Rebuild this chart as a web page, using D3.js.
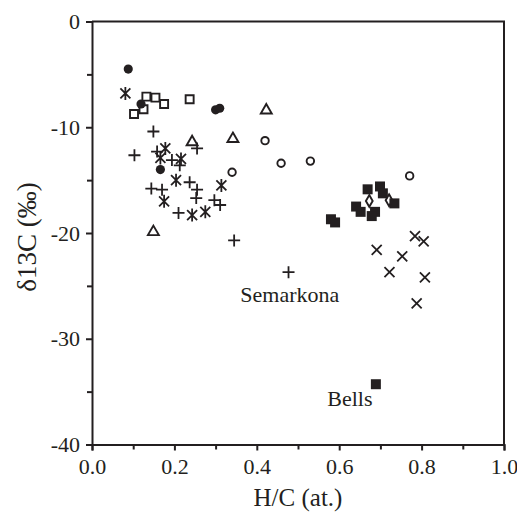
<!DOCTYPE html>
<html>
<head>
<meta charset="utf-8">
<script src="https://cdn.jsdelivr.net/npm/d3@7"></script>
<style>
  body { margin: 0; background: #fff; }
  text { font-family: "Liberation Serif", "Times New Roman", serif; fill: #231f20; }
</style>
</head>
<body>
<div id="chart"></div>
<script>
// H/C (at.) vs d13C
const filledCircles = [[0.088, -4.5], [0.119, -7.8], [0.300, -8.35], [0.310, -8.2], [0.166, -14.0]];
const openSquares = [[0.102, -8.75], [0.125, -8.3], [0.132, -7.1], [0.154, -7.2], [0.175, -7.8], [0.237, -7.35]];
const openTriangles = [[0.243, -11.4], [0.342, -11.1], [0.423, -8.4], [0.149, -19.9]];
const openCircles = [[0.340, -14.25], [0.420, -11.27], [0.459, -13.4], [0.530, -13.2], [0.771, -14.6]];
const filledSquares = [[0.669, -15.87], [0.699, -15.6], [0.706, -16.25], [0.734, -17.2], [0.641, -17.5],
    [0.652, -18.0], [0.687, -18.0], [0.679, -18.4], [0.580, -18.7], [0.590, -19.0], [0.689, -34.3]];
const openDiamonds = [[0.673, -16.97], [0.721, -16.9]];
const crosses = [[0.691, -21.6], [0.784, -20.3], [0.805, -20.8], [0.753, -22.2], [0.722, -23.7],
    [0.808, -24.2], [0.788, -26.65]];
const pluses = [[0.149, -10.4], [0.255, -12.0], [0.103, -12.65], [0.158, -12.3], [0.194, -13.1],
    [0.213, -13.6], [0.237, -15.2], [0.144, -15.8], [0.170, -15.9], [0.255, -15.9], [0.253, -16.7],
    [0.297, -16.9], [0.311, -17.35], [0.210, -18.1], [0.345, -20.7], [0.477, -23.7]];
const asterisks = [[0.081, -6.8], [0.178, -12.0], [0.166, -12.9], [0.216, -13.0], [0.204, -15.0],
    [0.314, -15.5], [0.175, -17.0], [0.243, -18.3], [0.275, -18.0]];

const labels = [{ text: "Semarkona", x: 0.480, y: -26.5 }, { text: "Bells", x: 0.626, y: -36.4 }];

const xTicks = [0, 0.2, 0.4, 0.6, 0.8, 1.0];
const xMinor = [0.1, 0.3, 0.5, 0.7, 0.9];
const yTicks = [0, -10, -20, -30, -40];
const yMinor = [-5, -15, -25, -35];

const width = 517, height = 513;
const margin = { top: 21.5, right: 13, bottom: 68.5, left: 92 };
const ink = "#231f20";

const svg = d3.select("#chart").append("svg")
    .attr("width", width)
    .attr("height", height);

const x = d3.scaleLinear().domain([0, 1]).range([margin.left, width - margin.right]);
const y = d3.scaleLinear().domain([-40, 0]).range([height - margin.bottom, margin.top]);

// axes
svg.append("g")
    .attr("transform", `translate(0,${y(-40)})`)
    .call(d3.axisBottom(x).tickValues(xTicks).tickFormat(d3.format(".1f")).tickSizeOuter(0).tickSize(6).tickPadding(8));
svg.append("g")
    .attr("transform", `translate(0,${y(-40)})`)
    .call(d3.axisBottom(x).tickValues(xMinor).tickFormat("").tickSize(5))
    .select(".domain").remove();

const yAxis = svg.append("g")
    .attr("transform", `translate(${x(0)},0)`)
    .call(d3.axisLeft(y).tickValues(yTicks).tickFormat(d3.format("d")).tickSizeOuter(0).tickSize(6).tickPadding(6));
svg.append("g")
    .attr("transform", `translate(${x(0)},0)`)
    .call(d3.axisLeft(y).tickValues(yMinor).tickFormat("").tickSize(5))
    .select(".domain").remove();

svg.selectAll(".domain, .tick line").attr("stroke", ink).attr("stroke-width", 2);
svg.selectAll(".tick text").attr("fill", ink).style("font-size", "22px")
    .style("font-family", "'Liberation Serif', 'Times New Roman', serif");
yAxis.selectAll(".tick text").text(d => d === 0 ? "0" : "-" + Math.abs(d));

// top and right frame
svg.append("path")
    .attr("d", `M${x(0)},${y(0)}H${x(1)}V${y(-40)}`)
    .attr("fill", "none")
    .attr("stroke", ink)
    .attr("stroke-width", 2);

// axis titles
svg.append("text")
    .attr("x", (x(0) + x(1)) / 2)
    .attr("y", 506)
    .attr("text-anchor", "middle")
    .style("font-size", "25px")
    .text("H/C (at.)");

svg.append("text")
    .attr("transform", `translate(36,${(y(0) + y(-40)) / 2 + 4}) rotate(-90)`)
    .attr("text-anchor", "middle")
    .style("font-size", "27px")
    .text("δ13C (‰)");

// markers
const pos = d => `translate(${x(d[0])},${y(d[1])})`;

const drawSymbol = (data, type, size, filled) => {
    svg.append("g").selectAll("path")
        .data(data)
        .enter()
        .append("path")
        .attr("transform", pos)
        .attr("d", d3.symbol().type(type).size(size))
        .attr("fill", filled ? ink : "white")
        .attr("fill-opacity", filled ? 1 : 0)
        .attr("stroke", ink)
        .attr("stroke-width", filled ? 0 : 1.9);
};

const drawLines = (data, pathStr, sw) => {
    svg.append("g").selectAll("path")
        .data(data)
        .enter()
        .append("path")
        .attr("transform", pos)
        .attr("d", pathStr)
        .attr("fill", "none")
        .attr("stroke", ink)
        .attr("stroke-width", sw);
};

drawSymbol(openSquares, d3.symbolSquare, 64, false);
drawSymbol(openCircles, d3.symbolCircle, 44, false);
drawSymbol(openTriangles, d3.symbolTriangle, 52, false);
drawSymbol(filledSquares, d3.symbolSquare, 100, true);
drawSymbol(openDiamonds, d3.symbolDiamond, 40, false);
drawSymbol(filledCircles, d3.symbolCircle, 66, true);

drawLines(pluses, "M-6,0H6M0,-6V6", 1.8);
drawLines(crosses, "M-5,-5L5,5M-5,5L5,-5", 1.8);
drawLines(asterisks, "M-5,-5L5,5M-5,5L5,-5M0,-6.5V6.5", 1.8);

// point labels
svg.append("g").selectAll("text")
    .data(labels)
    .enter()
    .append("text")
    .attr("x", d => x(d.x))
    .attr("y", d => y(d.y))
    .attr("text-anchor", "middle")
    .style("font-size", "22px")
    .text(d => d.text);
</script>
</body>
</html>
